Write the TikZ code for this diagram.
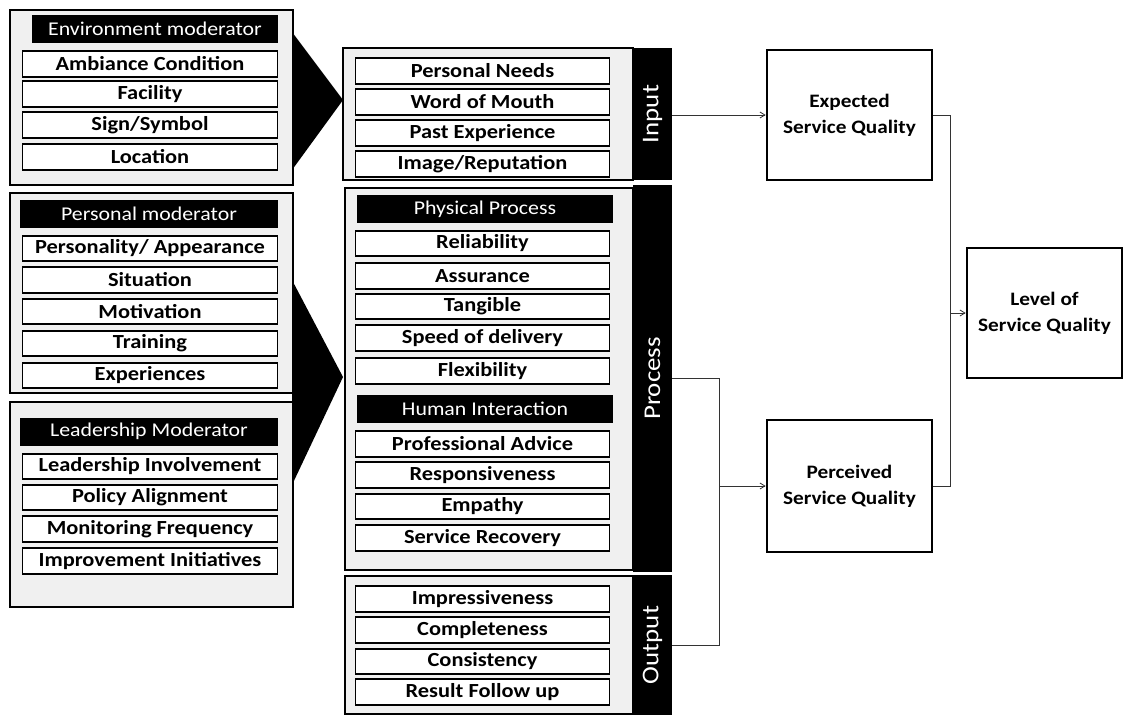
\documentclass[tikz,border=0pt]{standalone}
\usepackage{fontspec}
\setmainfont{Carlito}[FakeStretch=1.12]
\usepackage{tikz}
\usetikzlibrary{arrows.meta, positioning}

\begin{document}
\begin{tikzpicture}[
    x=1pt, y=-1pt,
    % Group Frames
    groupframe/.style={rectangle, draw=black, line width=2.4pt, fill=gray!12, inner sep=0pt},
    % Group Titles
    grouptitle/.style={rectangle, fill=black, text=white, minimum height=28pt, inner sep=0pt, font=\fontsize{19.5}{19.5}\selectfont},
    % Items
    item/.style={rectangle, draw=black, line width=1.8pt, fill=white, minimum height=25.5pt, inner sep=0pt, font=\fontsize{20}{20}\selectfont\bfseries},
    leftitem/.style={item, minimum width=255pt},
    miditem/.style={item, minimum width=254pt},
    % Side Bars
    sidebar/.style={rectangle, fill=black, text=white, minimum width=39pt, inner sep=0pt},
    sidelabel/.style={text=white, rotate=90, font=\fontsize{24}{24}\selectfont},
    % Quality Boxes
    qualbox/.style={rectangle, draw=black, line width=2.6pt, fill=white, align=center, inner sep=0pt, font=\fontsize{19}{26}\selectfont\bfseries},
    flow/.style={line width=0.8pt, draw=black!80},
    arr/.style={flow, -{Straight Barb[length=5pt, width=6pt]}}
]
    \useasboundingbox (0,0) rectangle (1126,715);

    % Environment Moderator
    \node[groupframe, minimum width=283pt, minimum height=175pt] (envframe) at (151.5,97.5) {};
    \node[grouptitle, minimum width=246pt] (envtitle) at (155,29) {Environment moderator};
    \node[leftitem] (ambiance) at (150,64) {Ambiance Condition};
    \node[leftitem] (facility) at (150,94) {Facility};
    \node[leftitem] (sign) at (150,125) {Sign/Symbol};
    \node[leftitem] (location) at (150,157) {Location};

    % Personal Moderator
    \node[groupframe, minimum width=283pt, minimum height=200pt] (perframe) at (151.5,293) {};
    \node[grouptitle, minimum width=258pt] (pertitle) at (149,214) {Personal moderator};
    \node[leftitem] (personality) at (150,248.5) {Personality/ Appearance};
    \node[leftitem] (situation) at (150,280) {Situation};
    \node[leftitem] (motivation) at (150,311.5) {Motivation};
    \node[leftitem] (training) at (150,343.5) {Training};
    \node[leftitem] (experiences) at (150,375.5) {Experiences};

    % Leadership Moderator
    \node[groupframe, minimum width=283pt, minimum height=205pt] (leadframe) at (151.5,504.5) {};
    \node[grouptitle, minimum width=258pt] (leadtitle) at (149,431.5) {Leadership Moderator};
    \node[leftitem] (involvement) at (150,466.5) {Leadership Involvement};
    \node[leftitem] (policy) at (150,497.5) {Policy Alignment};
    \node[leftitem] (monitoring) at (150,529) {Monitoring Frequency};
    \node[leftitem] (improvement) at (150,561) {Improvement Initiatives};

    % Pointers
    \fill (292,32) -- (343,100) -- (292,170) -- cycle;
    \fill (292,280) -- (343,377) -- (292,485) -- cycle;

    % Input
    \node[groupframe, minimum width=290pt, minimum height=132pt] (inframe) at (488,114) {};
    \node[miditem] (needs) at (482.5,71) {Personal Needs};
    \node[miditem] (mouth) at (482.5,102) {Word of Mouth};
    \node[miditem] (past) at (482.5,133) {Past Experience};
    \node[miditem] (image) at (482.5,164) {Image/Reputation};
    \node[sidebar, minimum height=132pt] (inbar) at (652.5,114) {};
    \node[sidelabel] at (inbar) {Input};

    % Process
    \node[groupframe, minimum width=288pt, minimum height=382pt] (procframe) at (489,379) {};
    \node[grouptitle, minimum width=256pt] (phystitle) at (485,209) {Physical Process};
    \node[miditem] (reliability) at (482.5,243.5) {Reliability};
    \node[miditem] (assurance) at (482.5,276) {Assurance};
    \node[miditem] (tangible) at (482.5,306.5) {Tangible};
    \node[miditem] (speed) at (482.5,338) {Speed of delivery};
    \node[miditem] (flexibility) at (482.5,371) {Flexibility};
    \node[grouptitle, minimum width=256pt] (humantitle) at (485,409) {Human Interaction};
    \node[miditem] (advice) at (482.5,444) {Professional Advice};
    \node[miditem] (responsive) at (482.5,475) {Responsiveness};
    \node[miditem] (empathy) at (482.5,506.5) {Empathy};
    \node[miditem] (recovery) at (482.5,538) {Service Recovery};
    \node[sidebar, minimum height=387pt] (procbar) at (652.5,378.5) {};
    \node[sidelabel] at (procbar) {Process};

    % Output
    \node[groupframe, minimum width=288pt, minimum height=138pt] (outframe) at (489,645) {};
    \node[miditem] (impressive) at (482.5,599) {Impressiveness};
    \node[miditem] (complete) at (482.5,630) {Completeness};
    \node[miditem] (consistent) at (482.5,661.5) {Consistency};
    \node[miditem] (followup) at (482.5,692) {Result Follow up};
    \node[sidebar, minimum height=140pt] (outbar) at (652.5,645) {};
    \node[sidelabel] at (outbar) {Output};

    % Service Quality
    \node[qualbox, minimum width=165pt, minimum height=130pt] (expected) at (849.5,115) {Expected\\Service Quality};
    \node[qualbox, minimum width=165pt, minimum height=132pt] (perceived) at (849.5,486) {Perceived\\Service Quality};
    \node[qualbox, minimum width=155pt, minimum height=130pt] (level) at (1044.5,313) {Level of\\Service Quality};

    % Connectors
    \coordinate (gather) at (719,486);
    \coordinate (merge) at (950,313);
    \draw[arr] (inbar.east |- expected.west) -- (expected.west);
    \draw[flow] (procbar.east) -| (gather);
    \draw[flow] (outbar.east) -| (gather);
    \draw[arr] (gather) -- (perceived.west);
    \draw[flow] (expected.east) -| (merge);
    \draw[flow] (perceived.east) -| (merge);
    \draw[arr] (merge) -- (level.west);
\end{tikzpicture}
\end{document}
